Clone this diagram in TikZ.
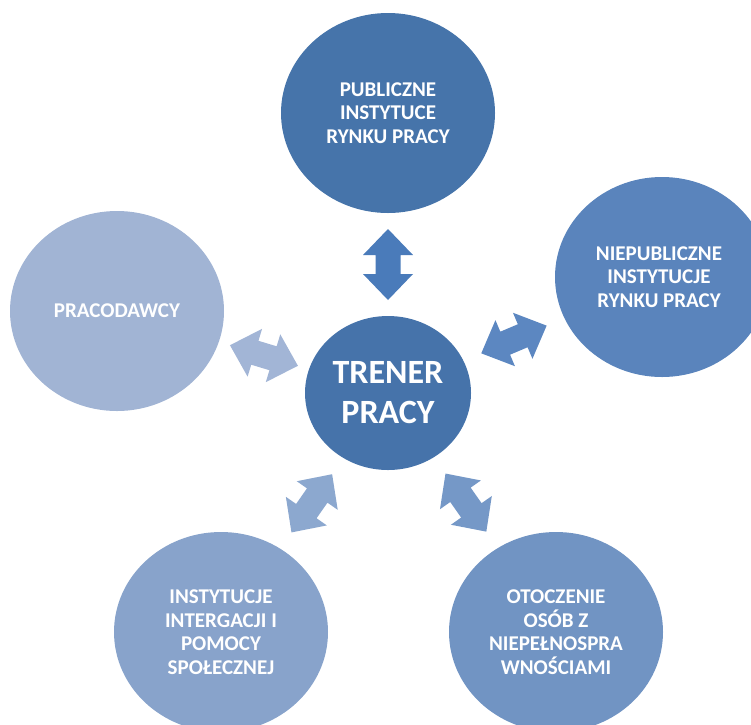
\documentclass[tikz,border=0pt]{standalone}
\usepackage{fontspec}
\setmainfont{Carlito}
\usetikzlibrary{shapes.geometric,calc}

\definecolor{hubblue}{HTML}{4673AA}
\definecolor{pubblue}{HTML}{4674AA}
\definecolor{privblue}{HTML}{5A84BC}
\definecolor{empblue}{HTML}{A1B4D4}
\definecolor{socblue}{HTML}{88A3CB}
\definecolor{envblue}{HTML}{7194C3}

\begin{document}
\begin{tikzpicture}[x=1pt,y=-1pt,
  hub/.style={ellipse, minimum width=166pt, minimum height=154pt, inner sep=0pt,
    text=white, align=center, font=\bfseries\fontsize{34}{40}\selectfont},
  sat/.style={ellipse, minimum width=214pt, minimum height=200pt, inner sep=0pt,
    text=white, align=center, font=\bfseries\fontsize{21}{23.5}\selectfont},
  pics/twoway/.style={code={
    \fill[pic actions] (-35.5,0) -- (-9.5,25) -- (-9.5,12.5) -- (9.5,12.5) -- (9.5,25)
      -- (35.5,0) -- (9.5,-25) -- (9.5,-12.5) -- (-9.5,-12.5) -- (-9.5,-25) -- cycle;}}
]
\useasboundingbox (0,0) rectangle (751,724);
\clip (0,0) rectangle (751,724);

% circles
\node[hub, fill=hubblue]  (hub)  at (388,393) {TRENER\\PRACY};
\node[sat, fill=pubblue]  (pub)  at (388,113) {PUBLICZNE\\INSTYTUCE\\RYNKU PRACY};
\node[sat, fill=privblue] (priv) at (662,277) {};
\node[sat, fill=empblue]  (emp)  at (117,311) {PRACODAWCY};
\node[sat, fill=socblue]  (soc)  at (221,632) {INSTYTUCJE\\INTERGACJI I\\POMOCY\\SPOŁECZNEJ};
\node[sat, fill=envblue]  (env)  at (556,632) {OTOCZENIE\\OSÓB Z\\NIEPEŁNOSPRA\\WNOŚCIAMI};
\node[text=white, align=center, font=\bfseries\fontsize{21}{23.5}\selectfont]
  at (659,277) {NIEPUBLICZNE\\INSTYTUCJE\\RYNKU PRACY};

% two-way arrows, centred in the gap between the hub and each circle
\foreach \sat/\col in {pub/4A7BBA, priv/5C87C1, emp/A2B5D6, soc/8CA8CF, env/7598C7}{
  \definecolor{arrowcol}{HTML}{\col}
  \path let \p1=($(\sat)-(hub)$), \n1={atan2(\y1,\x1)}, \n2={\n1+180} in
    pic[fill=arrowcol, rotate=\n1] at ($(hub.\n1)!0.5!(\sat.\n2)$) {twoway};
}
\end{tikzpicture}
\end{document}
